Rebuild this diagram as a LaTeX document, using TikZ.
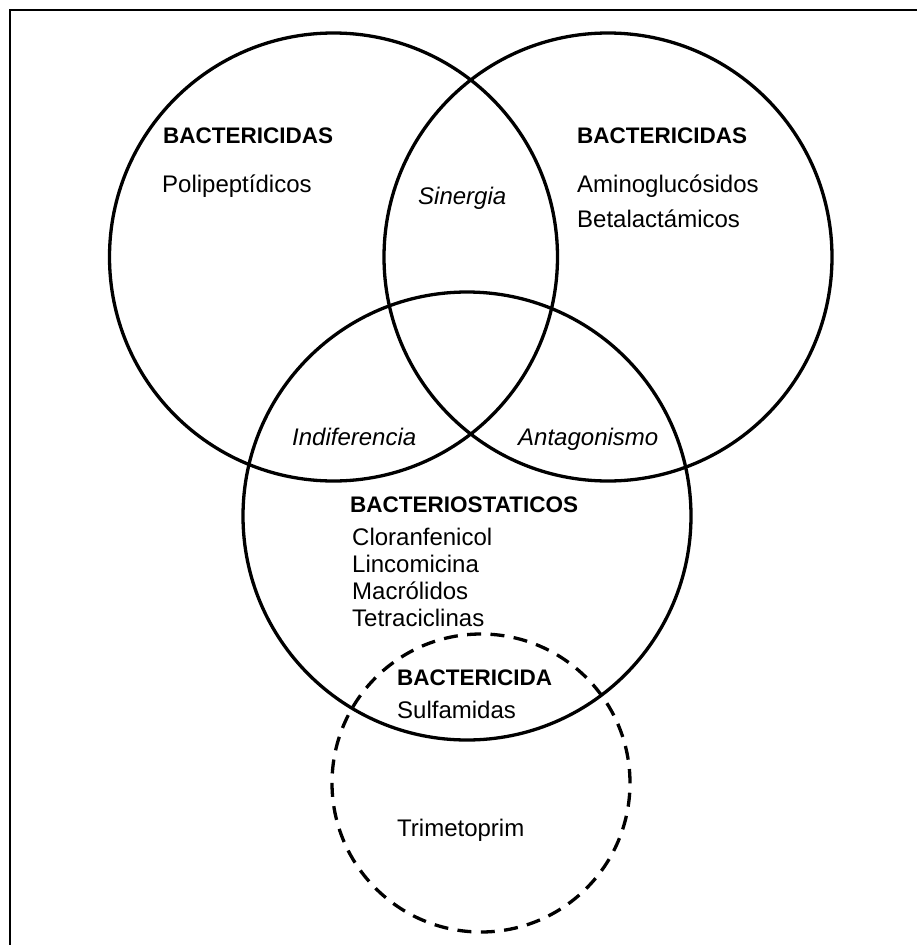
\documentclass[tikz,border=0pt]{standalone}
\usepackage{fontspec}
\setmainfont{Liberation Sans}
\begin{document}
\begin{tikzpicture}[x=1pt,y=-1pt,
  ring/.style={draw, circle, line width=3.3pt, minimum size=448pt, inner sep=0pt},
  dring/.style={draw, circle, line width=3.3pt, minimum size=298pt, inner sep=0pt, dash pattern=on 14pt off 9.4pt},
  head/.style={anchor=base west, inner sep=0pt, font=\fontsize{22.5}{27}\selectfont\bfseries},
  item/.style={anchor=base west, inner sep=0pt, font=\fontsize{24}{27}\selectfont},
  rel/.style={anchor=base west, inner sep=0pt, font=\fontsize{24}{27}\selectfont\itshape}
]
\useasboundingbox (0,0) rectangle (917,945);
\draw[line width=2pt] (10,945) -- (10,10) -- (917,10);

\node[ring] (c1) at (333.5,257) {};
\node[ring] (c2) at (608,257) {};
\node[ring] (c3) at (467,516) {};
\node[dring] (c4) at (481,783) {};

\node[head] (h1) at (163,143) {BACTERICIDAS};
\node[item] (p1) at (162,192) {Polipeptídicos};

\node[head] (h2) at (577,143) {BACTERICIDAS};
\node[item] (a2) at (577,192) {Aminoglucósidos};
\node[item] (b2) at (577,227) {Betalactámicos};

\node[rel] (sin) at (418,204) {Sinergia};
\node[rel] (ind) at (292,445) {Indiferencia};
\node[rel] (ant) at (518,445) {Antagonismo};

\node[head] (h3) at (350,512) {BACTERIOSTATICOS};
\node[item] (i31) at (352,545) {Cloranfenicol};
\node[item] (i32) at (352,572) {Lincomicina};
\node[item] (i33) at (352,599) {Macrólidos};
\node[item] (i34) at (352,626) {Tetraciclinas};

\node[head] (h4) at (397,685) {BACTERICIDA};
\node[item] (s4) at (397,718) {Sulfamidas};
\node[item] (t4) at (397,836) {Trimetoprim};
\end{tikzpicture}
\end{document}
